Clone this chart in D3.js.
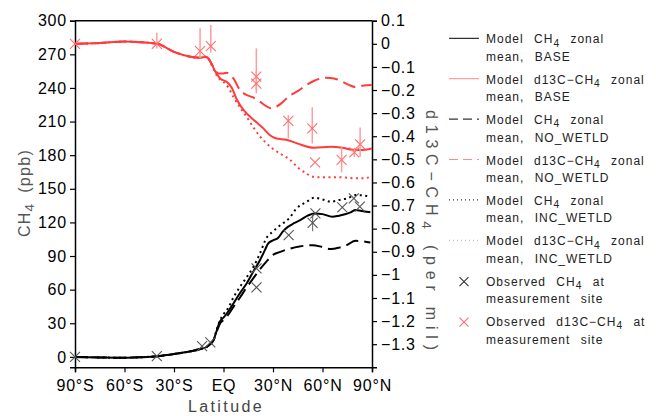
<!DOCTYPE html>
<html>
<head>
<meta charset="utf-8">
<script src="https://cdn.jsdelivr.net/npm/d3@7"></script>
<style>
body { margin: 0; background: #fff; }
svg text { font-family: "Liberation Sans", Arial, sans-serif; }
</style>
</head>
<body>
<svg id="chart"></svg>
<script>
// axis ticks
var lat_ticks = [-90, -60, -30, 0, 30, 60, 90];
var lat_labels = ["90°S", "60°S", "30°S", "EQ", "30°N", "60°N", "90°N"];
var ch4_ticks = [0, 30, 60, 90, 120, 150, 180, 210, 240, 270, 300];
var d13c_ticks = [0.1, 0, -0.1, -0.2, -0.3, -0.4, -0.5, -0.6, -0.7, -0.8, -0.9, -1, -1.1, -1.2, -1.3];

// model zonal means, [latitude, value]
var ch4_base = [[-90,0],[-75,-0.5],[-60,-0.8],[-50,-0.3],[-40,0.6],[-30,2.5],[-20,5],[-14,7],[-10,9],[-8,11.5],
    [-6,15],[-4,24],[-2,32],[0,35],[2,38.7],[6,47.7],[10,57],[14,65.5],[18,76],[22,86],[25,95],[27,101],[30,104],
    [33,106],[36,112],[39,116],[43,119.5],[47,122.5],[51,126],[55,128],[60,127.4],[66,125],[70,126],[73,127],
    [77,129],[80,131],[83,130.5],[89,129]];
var ch4_nowetld = [[-90,0],[-75,-0.5],[-60,-0.8],[-50,-0.3],[-40,0.6],[-30,2.5],[-20,5],[-14,7],[-10,9],[-8,11.5],
    [-6,15],[-4,23],[-2,30],[0,33],[2,36],[6,44.6],[10,53],[14,62],[18,70],[22,78],[26,85],[30,91],[34,93.5],
    [40,96.5],[46,98.5],[54,99.7],[60,98],[65,96.2],[70,97.5],[75,100],[80,103.6],[85,103],[89,102]];
var ch4_incwetld = [[-90,0],[-75,-0.5],[-60,-0.8],[-50,-0.3],[-40,0.6],[-30,2.5],[-20,5],[-14,7],[-10,9],[-8,11.5],
    [-6,15],[-4,25],[-2,33],[0,38],[3,44],[6,53],[10,62.5],[14,71],[18,80],[22,92],[26,106],[30,112],[34,117],
    [40,124],[44,132],[50,138],[55,142],[60,140.5],[65,138.5],[70,140],[75,141.5],[80,144.4],[85,144],[89,142.9]];

var d13c_base = [[-90,0],[-75,0.003],[-60,0.01],[-50,0.007],[-40,0],[-30,-0.035],[-20,-0.056],[-14,-0.06],
    [-11,-0.056],[-9,-0.065],[-7,-0.09],[-5,-0.12],[-2,-0.15],[2,-0.165],[5,-0.19],[8,-0.24],[12,-0.285],
    [16,-0.315],[20,-0.34],[24,-0.365],[28,-0.395],[32,-0.41],[38,-0.415],[45,-0.432],[55,-0.45],[65,-0.446],
    [72,-0.45],[78,-0.458],[83,-0.46],[90,-0.453]];
var d13c_nowetld = [[-90,0],[-75,0.003],[-60,0.01],[-50,0.007],[-40,0],[-30,-0.035],[-20,-0.056],[-14,-0.06],
    [-11,-0.056],[-9,-0.065],[-7,-0.09],[-5,-0.115],[-3,-0.128],[0,-0.128],[2,-0.125],[6,-0.15],[10,-0.2],
    [13,-0.218],[18,-0.232],[22,-0.25],[26,-0.27],[29,-0.279],[32,-0.272],[35,-0.258],[40,-0.225],[45,-0.205],
    [50,-0.18],[55,-0.16],[62,-0.147],[67,-0.15],[71,-0.16],[76,-0.178],[80,-0.187],[85,-0.18],[90,-0.178]];
var d13c_incwetld = [[-90,0],[-75,0.003],[-60,0.01],[-50,0.007],[-40,0],[-30,-0.035],[-20,-0.056],[-14,-0.06],
    [-11,-0.056],[-9,-0.065],[-7,-0.095],[-5,-0.125],[-2,-0.155],[0,-0.165],[3,-0.19],[6,-0.23],[10,-0.275],
    [14,-0.316],[18,-0.36],[22,-0.4],[26,-0.43],[30,-0.455],[35,-0.478],[40,-0.5],[45,-0.535],[50,-0.56],
    [54,-0.575],[60,-0.578],[70,-0.577],[80,-0.582],[85,-0.582],[90,-0.573]];

// observations at measurement sites
var obs_ch4 = [[-90,0],[-40.4,0.6],[-13,9.5],[-8,13],[20,79],[20,62],[39.5,108.7],[54,119.5],[55.7,128],
    [72,133.4],[79,141.4],[82.6,134]];
var obs_ch4_err = [[54,112,127]];
// [latitude, value, low, high]
var obs_d13c = [[-90,0,-0.005,0.005],[-40.4,0,-0.02,0.048],[-14.2,-0.032,-0.063,0.067],[-7.7,-0.01,-0.039,0.081],
    [19.9,-0.142,-0.214,-0.02],[19.9,-0.172,-0.2,-0.12],[39.3,-0.334,-0.409,-0.308],[53.8,-0.366,-0.431,-0.275],
    [55.5,-0.513,-0.513,-0.513],[71.6,-0.502,-0.556,-0.448],[79.3,-0.47,-0.49,-0.45],[82.8,-0.435,-0.489,-0.362]];

var legend_rows = [
    ["Model CH4 zonal", "mean, BASE"],
    ["Model d13C\u2212CH4 zonal", "mean, BASE"],
    ["Model CH4 zonal", "mean, NO_WETLD"],
    ["Model d13C\u2212CH4 zonal", "mean, NO_WETLD"],
    ["Model CH4 zonal", "mean, INC_WETLD"],
    ["Model d13C\u2212CH4 zonal", "mean, INC_WETLD"],
    ["Observed CH4 at", "measurement site"],
    ["Observed d13C\u2212CH4 at", "measurement site"]
];

var width = 656,
    height = 416,
    plotL = 75, plotR = 372, plotT = 20.7, plotB = 367.3;

var black = "#000",
    red = "#ff3b3b";

var svg = d3.select("#chart")
    .attr("width", width)
    .attr("height", height);

var x = d3.scaleLinear().domain([-90, 90]).range([plotL, plotR]);
var yL = d3.scaleLinear().domain([-9.3, 300]).range([plotB, plotT]);
var yR = d3.scaleLinear().domain([-1.4, 0.1]).range([plotB, plotT]);

// writes text, turning every "CH4" into CH with a subscript 4
function richText(sel, str, size) {
    var parts = str.split("CH4");
    parts.forEach(function (p, i) {
        if (i > 0) {
            sel.append("tspan").text("CH");
            sel.append("tspan").attr("dy", size * 0.28).attr("font-size", size * 0.85).text("4");
            sel.append("tspan").attr("dy", -size * 0.28).text(p);
        } else {
            sel.append("tspan").text(p);
        }
    });
}

// frame
svg.append("line")
    .attr("x1", plotL).attr("x2", plotR)
    .attr("y1", plotT).attr("y2", plotT)
    .style("stroke", "#000").style("stroke-width", 1.5);

var xAxis = svg.append("g")
    .attr("transform", "translate(0," + plotB + ")")
    .call(d3.axisBottom(x).tickValues(lat_ticks).tickSize(5).tickPadding(4)
        .tickFormat(function (d, i) { return lat_labels[i]; }));

var yAxisL = svg.append("g")
    .attr("transform", "translate(" + plotL + ",0)")
    .call(d3.axisLeft(yL).tickValues(ch4_ticks).tickSize(5).tickPadding(3));

var yAxisR = svg.append("g")
    .attr("transform", "translate(" + plotR + ",0)")
    .call(d3.axisRight(yR).tickValues(d13c_ticks).tickSize(5).tickPadding(4)
        .tickFormat(function (d) { return d3.format("")(d).replace("-", "\u2212"); }));

[xAxis, yAxisL, yAxisR].forEach(function (a) {
    a.select(".domain").style("stroke-width", 1.5);
    a.selectAll(".tick line").style("stroke-width", 1.2);
    a.selectAll(".tick text")
        .style("font-size", "16px")
        .style("letter-spacing", "0.8px")
        .style("fill", "#000");
});
xAxis.selectAll(".tick text").attr("dy", "0.95em");

// axis titles
svg.append("text")
    .attr("x", 226)
    .attr("y", 412)
    .attr("text-anchor", "middle")
    .style("font-size", "16px")
    .style("letter-spacing", "2.4px")
    .style("fill", "#444")
    .text("Latitude");

var tl = svg.append("text")
    .attr("transform", "translate(30,193) rotate(-90)")
    .attr("text-anchor", "middle")
    .style("font-size", "16px")
    .style("letter-spacing", "1.3px")
    .style("word-spacing", "4px")
    .style("fill", "#555");
richText(tl, "CH4 (ppb)", 16);

var tr = svg.append("text")
    .attr("transform", "translate(426,230) rotate(90)")
    .attr("text-anchor", "middle")
    .attr("textLength", 240)
    .attr("lengthAdjust", "spacing")
    .style("font-size", "16px")
    .style("fill", "#555");
richText(tr, "d13C\u2212CH4 (per mil)", 16);

// model curves
var lineL = d3.line()
    .x(function (d) { return x(d[0]); })
    .y(function (d) { return yL(d[1]); })
    .curve(d3.curveMonotoneX);

var lineR = d3.line()
    .x(function (d) { return x(d[0]); })
    .y(function (d) { return yR(d[1]); })
    .curve(d3.curveMonotoneX);

var curves = [
    {data: d13c_base, line: lineR, color: red, dash: null},
    {data: d13c_nowetld, line: lineR, color: red, dash: "13,6"},
    {data: d13c_incwetld, line: lineR, color: red, dash: "2,3.5"},
    {data: ch4_base, line: lineL, color: black, dash: null},
    {data: ch4_nowetld, line: lineL, color: black, dash: "13,6"},
    {data: ch4_incwetld, line: lineL, color: black, dash: "2,3.5"}
];

svg.append("g")
    .selectAll("path")
    .data(curves)
    .enter()
    .append("path")
    .attr("d", function (d) { return d.line(d.data); })
    .style("fill", "none")
    .style("stroke", function (d) { return d.color; })
    .style("stroke-width", 2)
    .style("stroke-dasharray", function (d) { return d.dash; });

// observations
function cross(cx, cy, r) {
    return "M" + (cx - r) + "," + (cy - r) + "L" + (cx + r) + "," + (cy + r) +
        "M" + (cx - r) + "," + (cy + r) + "L" + (cx + r) + "," + (cy - r);
}

var obs = svg.append("g");

obs.selectAll("line.errR")
    .data(obs_d13c.filter(function (d) { return d[3] > d[2] + 0.02; }))
    .enter()
    .append("line")
    .attr("class", "errR")
    .attr("x1", function (d) { return x(d[0]); })
    .attr("x2", function (d) { return x(d[0]); })
    .attr("y1", function (d) { return yR(d[2]); })
    .attr("y2", function (d) { return yR(d[3]); })
    .style("stroke", "#ff9c9c")
    .style("stroke-width", 1.5);

obs.selectAll("line.errL")
    .data(obs_ch4_err)
    .enter()
    .append("line")
    .attr("class", "errL")
    .attr("x1", function (d) { return x(d[0]); })
    .attr("x2", function (d) { return x(d[0]); })
    .attr("y1", function (d) { return yL(d[1]); })
    .attr("y2", function (d) { return yL(d[2]); })
    .style("stroke", "#777")
    .style("stroke-width", 1.2);

obs.selectAll("path.obsR")
    .data(obs_d13c)
    .enter()
    .append("path")
    .attr("class", "obsR")
    .attr("d", function (d) { return cross(x(d[0]), yR(d[1]), 5); })
    .style("stroke", "#ff6e6e")
    .style("stroke-width", 1.1)
    .style("fill", "none");

obs.selectAll("path.obsL")
    .data(obs_ch4)
    .enter()
    .append("path")
    .attr("class", "obsL")
    .attr("d", function (d) { return cross(x(d[0]), yL(d[1]), 5); })
    .style("stroke", "#555")
    .style("stroke-width", 1.1)
    .style("fill", "none");

// legend
var legend_keys = [
    {color: "#000", dash: null},
    {color: "#ff8a8a", dash: null},
    {color: "#000", dash: "9,5"},
    {color: "#ff8a8a", dash: "9,5"},
    {color: "#000", dash: "1,3"},
    {color: "#ff8a8a", dash: "1,3"},
    {color: "#333", marker: true},
    {color: "#ff6e6e", marker: true}
];

var leg = svg.append("g")
    .attr("transform", "translate(449,43.3)");

var item = leg.selectAll("g")
    .data(legend_rows)
    .enter()
    .append("g")
    .attr("transform", function (d, i) { return "translate(0," + (i * 40.4) + ")"; });

item.each(function (d, i) {
    var g = d3.select(this),
        k = legend_keys[i];
    if (k.marker) {
        g.append("path")
            .attr("d", cross(15, -4, 4.5))
            .style("stroke", k.color)
            .style("stroke-width", 1.1)
            .style("fill", "none");
    } else {
        g.append("line")
            .attr("x1", 0).attr("x2", 30)
            .attr("y1", -5).attr("y2", -5)
            .style("stroke", k.color)
            .style("stroke-width", 1)
            .style("stroke-dasharray", k.dash);
    }
    d.forEach(function (s, j) {
        var t = g.append("text")
            .attr("x", 37)
            .attr("y", j * 17.5)
            .style("font-size", "12px")
            .style("letter-spacing", "1px")
            .style("word-spacing", "6px")
            .style("fill", "#222");
        richText(t, s, 12);
    });
});
</script>
</body>
</html>
